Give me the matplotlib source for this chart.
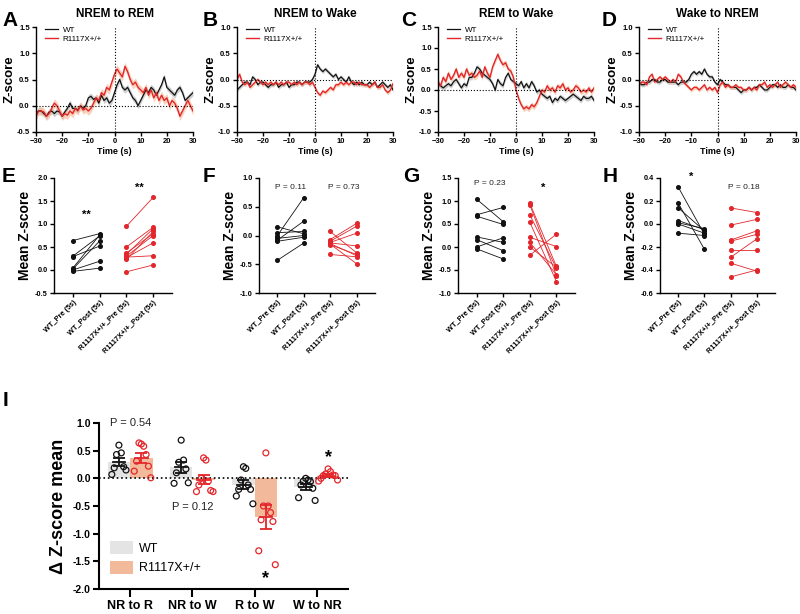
import numpy as np
import matplotlib.pyplot as plt

plt.rcParams['font.family'] = ['Liberation Sans', 'DejaVu Sans']
plt.rcParams['axes.linewidth'] = 1.0

RED = '#e3262b'
BLACK = '#111111'
GREY_BAR = '#e4e4e4'
SALMON = '#f3b99b'

# ── Data: peri-transition traces (1 s bins) ─────────────────────────────────
t = np.arange(-30, 31)

a_wt = [-0.15, -0.10, -0.10, -0.15, -0.20, -0.12, -0.10, -0.15, -0.10, -0.12,
        -0.20, -0.12, -0.05, 0.05, -0.05, -0.05, -0.08, 0.00, -0.05, 0.00,
        0.15, 0.18, 0.12, 0.15, 0.05, 0.20, 0.10, 0.15, 0.05, 0.10,
        0.25, 0.40, 0.50, 0.35, 0.30, 0.35, 0.25, 0.15, 0.10, 0.00,
        0.10, 0.20, 0.30, 0.25, 0.35, 0.30, 0.20, 0.30, 0.40, 0.55,
        0.35, 0.30, 0.25, 0.20, 0.30, 0.35, 0.25, 0.10, 0.15, 0.20,
        0.25]
a_mut = [-0.20, -0.10, -0.10, -0.12, -0.20, -0.15, -0.05, 0.05, 0.00, -0.10,
         -0.20, -0.15, -0.18, -0.10, -0.15, -0.05, -0.10, 0.00, -0.08, -0.05,
         -0.10, -0.05, 0.05, 0.15, 0.10, 0.25, 0.20, 0.35, 0.30, 0.45,
         0.60, 0.70, 0.62, 0.55, 0.75, 0.65, 0.50, 0.40, 0.45, 0.35,
         0.30, 0.25, 0.35, 0.20, 0.30, 0.15, 0.25, 0.10, 0.20, 0.10,
         0.15, 0.00, 0.10, 0.05, -0.05, -0.20, -0.10, 0.00, 0.10, 0.00,
         -0.10]

b_wt = [-0.20, -0.15, -0.10, -0.05, -0.05, -0.10, 0.05, 0.00, -0.10, -0.05,
        -0.05, -0.10, -0.15, -0.10, -0.10, -0.05, -0.15, -0.10, -0.10, -0.05,
        -0.15, -0.10, -0.10, -0.05, -0.05, -0.10, -0.05, -0.05, -0.05, 0.00,
        0.10, 0.28, 0.20, 0.15, 0.20, 0.15, 0.10, 0.05, 0.10, 0.00,
        0.05, 0.00, -0.05, 0.05, -0.05, -0.10, -0.05, -0.10, -0.05, -0.10,
        -0.10, -0.05, -0.10, -0.05, -0.15, -0.10, -0.05, -0.10, -0.15, -0.10,
        -0.20]
b_mut = [0.00, 0.10, -0.05, -0.10, -0.05, -0.15, -0.10, -0.05, 0.00, -0.05,
         -0.10, -0.05, -0.10, -0.05, -0.10, -0.05, -0.10, -0.05, -0.10, -0.05,
         -0.05, -0.10, -0.05, -0.10, -0.05, -0.10, -0.05, -0.05, -0.10, -0.05,
         -0.15, -0.25, -0.30, -0.22, -0.25, -0.20, -0.15, -0.20, -0.10, -0.10,
         -0.05, -0.10, -0.05, -0.10, -0.05, -0.05, -0.10, -0.05, -0.10, -0.10,
         -0.10, -0.15, -0.10, -0.05, -0.15, -0.15, -0.10, -0.20, -0.25, -0.20,
         -0.08]

c_wt = [0.15, 0.10, 0.05, 0.10, 0.15, 0.10, 0.20, 0.25, 0.15, 0.05,
        0.15, 0.10, 0.30, 0.30, 0.40, 0.55, 0.50, 0.40, 0.35, 0.30,
        0.25, 0.15, 0.00, 0.25, 0.15, 0.10, 0.30, 0.40, 0.25, 0.20,
        0.15, 0.10, 0.20, 0.05, 0.15, 0.05, 0.20, 0.10, -0.05, 0.00,
        -0.10, -0.15, -0.20, -0.15, -0.30, -0.20, -0.25, -0.15, -0.20, -0.25,
        -0.20, -0.15, -0.10, -0.15, -0.20, -0.25, -0.15, -0.20, -0.20, -0.15,
        -0.25]
c_mut = [0.20, 0.10, 0.30, 0.20, 0.40, 0.25, 0.35, 0.50, 0.30, 0.40,
         0.30, 0.50, 0.35, 0.40, 0.30, 0.35, 0.45, 0.30, 0.55, 0.40,
         0.30, 0.55, 0.70, 0.85, 0.70, 0.60, 0.65, 0.50, 0.45, 0.30,
         0.00, -0.20, -0.35, -0.45, -0.40, -0.45, -0.35, -0.40, -0.30, -0.15,
         0.00, -0.05, 0.10, 0.00, 0.05, -0.05, 0.10, 0.05, 0.15, 0.00,
         0.05, -0.05, 0.00, 0.10, 0.05, -0.05, 0.00, -0.05, 0.05, -0.05,
         0.05]

d_wt = [-0.05, -0.10, -0.10, -0.05, -0.05, 0.00, 0.00, -0.05, -0.05, 0.00,
        0.00, -0.05, -0.05, -0.05, -0.05, -0.10, -0.05, -0.05, -0.05, 0.00,
        0.10, 0.15, 0.10, 0.15, 0.10, 0.20, 0.10, 0.05, 0.05, -0.05,
        -0.10, 0.00, -0.05, -0.10, -0.10, -0.15, -0.15, -0.15, -0.20, -0.25,
        -0.20, -0.20, -0.15, -0.20, -0.15, -0.15, -0.10, -0.15, -0.20, -0.20,
        -0.15, -0.10, -0.10, -0.15, -0.10, -0.15, -0.15, -0.10, -0.15, -0.15,
        -0.20]
d_mut = [-0.10, -0.05, -0.05, -0.10, 0.05, 0.10, -0.05, 0.00, 0.05, 0.00,
         0.05, 0.00, -0.05, 0.00, -0.05, 0.10, 0.05, -0.05, -0.10, -0.15,
         -0.20, -0.15, -0.15, -0.20, -0.15, -0.10, -0.20, -0.15, -0.20, -0.15,
         -0.25, -0.10, -0.05, -0.15, -0.10, -0.15, -0.15, -0.10, -0.15, -0.15,
         -0.20, -0.20, -0.15, -0.20, -0.15, -0.20, -0.10, -0.10, -0.05, -0.15,
         -0.10, -0.15, -0.10, -0.05, -0.15, -0.10, -0.05, -0.10, -0.15, -0.10,
         -0.15]

trace_titles = ['NREM to REM', 'NREM to Wake', 'REM to Wake', 'Wake to NREM']
trace_wt = [a_wt, b_wt, c_wt, d_wt]
trace_mut = [a_mut, b_mut, c_mut, d_mut]
sem_wt = [0.06, 0.04, 0.06, 0.04]
sem_mut = [0.08, 0.04, 0.07, 0.04]
trace_ylim = [(-0.5, 1.5), (-1.0, 1.0), (-1.0, 1.5), (-1.0, 1.0)]

# ── Data: 5 s pre/post means ────────────────────────────────────────────────
e_wt_pre = [0.64, 0.30, 0.29, 0.04, 0.02, 0.00, -0.03]
e_wt_post = [0.79, 0.74, 0.52, 0.76, 0.63, 0.19, 0.04]
e_mut_pre = [0.95, 0.50, 0.37, 0.34, 0.30, 0.27, 0.23, 0.28, -0.04]
e_mut_post = [1.58, 0.93, 0.79, 0.90, 0.75, 0.59, 0.84, 0.31, 0.11]

f_wt_pre = [0.15, 0.05, 0.00, -0.05, -0.08, -0.10, -0.43]
f_wt_post = [0.03, 0.07, 0.66, 0.00, 0.25, -0.03, -0.13]
f_mut_pre = [0.07, -0.07, -0.10, -0.12, -0.13, -0.14, -0.16, -0.33, -0.15]
f_mut_post = [-0.30, 0.21, 0.16, 0.04, -0.18, -0.35, -0.33, -0.37, -0.49]

g_wt_pre = [1.04, 0.70, 0.67, 0.22, 0.16, 0.00, -0.04]
g_wt_post = [0.55, 0.86, 0.49, 0.10, -0.08, 0.20, -0.26]
g_mut_pre = [0.95, 0.92, 0.70, 0.54, 0.21, 0.10, 0.00, -0.18]
g_mut_post = [-0.42, -0.62, -0.46, -0.75, 0.01, -0.60, -0.44, 0.28]

h_wt_pre = [0.32, 0.18, 0.14, 0.03, 0.01, 0.00, -0.08]
h_wt_post = [-0.09, -0.22, -0.06, -0.05, -0.04, -0.08, -0.10]
h_mut_pre = [0.14, -0.01, -0.14, -0.15, -0.23, -0.29, -0.34, -0.46]
h_mut_post = [0.10, 0.04, -0.06, -0.09, -0.23, -0.13, -0.41, -0.40]

pair_labels = ['WT_Pre (5s)', 'WT_Post (5s)', 'R1117X+/+_Pre (5s)', 'R1117X+/+_Post (5s)']
pair_wt = [(e_wt_pre, e_wt_post), (f_wt_pre, f_wt_post), (g_wt_pre, g_wt_post), (h_wt_pre, h_wt_post)]
pair_mut = [(e_mut_pre, e_mut_post), (f_mut_pre, f_mut_post), (g_mut_pre, g_mut_post), (h_mut_pre, h_mut_post)]
pair_ylim = [(-0.5, 2.0), (-1.0, 1.0), (-1.0, 1.5), (-0.6, 0.4)]
pair_ystep = [0.5, 0.5, 0.5, 0.2]
pair_wt_note = [('**', 1.19), ('P = 0.11', 0.84), ('P = 0.23', 1.39), ('*', 0.41)]
pair_mut_note = [('**', 1.78), ('P = 0.73', 0.84), ('*', 1.28), ('P = 0.18', 0.32)]

# ── Data: delta Z-score ─────────────────────────────────────────────────────
delta_cats = ['NR to R', 'NR to W', 'R to W', 'W to NR']
delta_wt = [[0.60, 0.46, 0.43, 0.21, 0.19, 0.15, 0.07],
            [0.69, 0.33, 0.29, 0.17, 0.10, -0.08, -0.09],
            [0.21, 0.18, -0.03, -0.12, -0.20, -0.20, -0.32, -0.46],
            [0.00, -0.03, -0.05, -0.06, -0.12, -0.18, -0.35, -0.40]]
delta_mut = [[0.62, 0.58, 0.64, 0.43, 0.31, 0.22, 0.13, 0.01],
             [0.37, 0.33, 0.00, -0.05, -0.12, -0.22, -0.24, -0.24],
             [0.46, -0.50, -0.50, -0.62, -0.75, -0.78, -1.31, -1.56],
             [0.17, 0.12, 0.08, 0.06, 0.05, 0.05, 0.00, -0.03, -0.05]]

W, H = 800, 614
fig = plt.figure(figsize=(8, 6.14), dpi=100)


def px_axes(x0, y0, x1, y1):
    return fig.add_axes([x0 / W, 1 - y1 / H, (x1 - x0) / W, (y1 - y0) / H])


def style(ax, lw=1.0):
    for s in ['top', 'right']:
        ax.spines[s].set_visible(False)
    for s in ['left', 'bottom']:
        ax.spines[s].set_linewidth(lw)
    ax.tick_params(direction='out', length=3, width=lw, pad=1.5)


# ── Row 1: traces ───────────────────────────────────────────────────────────
trace_x = [(36, 193), (237, 393), (438, 594), (639, 796)]
trace_letters = [('A', 2), ('B', 203), ('C', 401), ('D', 602)]
for i in range(4):
    x0, x1 = trace_x[i]
    ax = px_axes(x0, 27, x1, 132)
    wt = np.array(trace_wt[i])
    mut = np.array(trace_mut[i])
    ax.fill_between(t, wt - sem_wt[i], wt + sem_wt[i], color='#b0b0b0', alpha=0.6, lw=0)
    ax.fill_between(t, mut - sem_mut[i], mut + sem_mut[i], color='#f6b48f', alpha=0.6, lw=0)
    ax.plot(t, wt, color=BLACK, lw=0.9, label='WT')
    ax.plot(t, mut, color=RED, lw=1.0, label='R1117X+/+')
    ax.axhline(0, color='k', ls=':', lw=0.8)
    ax.axvline(0, color='k', ls=':', lw=0.8)
    ax.set_xlim(-30, 30)
    ax.set_ylim(*trace_ylim[i])
    ax.set_xticks(np.arange(-30, 31, 10))
    ax.set_yticks(np.arange(trace_ylim[i][0], trace_ylim[i][1] + 0.01, 0.5))
    ax.set_yticklabels([f'{v:.1f}' for v in ax.get_yticks()])
    for lab in ax.get_xticklabels() + ax.get_yticklabels():
        lab.set_fontsize(5.5)
        lab.set_fontweight('bold')
    style(ax)
    ax.set_xlabel('Time (s)', fontsize=6.5, fontweight='bold', labelpad=1)
    ax.set_ylabel('Z-score', fontsize=9.5, fontweight='bold', labelpad=1)
    ax.set_title(trace_titles[i], fontsize=8.5, fontweight='bold', pad=7)
    ax.legend(loc='upper left', bbox_to_anchor=(0.02, 1.06), frameon=False,
              fontsize=5.8, handlelength=1.6, labelspacing=0.15, borderpad=0.2,
              handletextpad=0.6)
    lt, lx = trace_letters[i]
    fig.text(lx / W, 1 - 21 / H, lt, fontsize=15, fontweight='bold', va='center')

# ── Row 2: paired pre/post ──────────────────────────────────────────────────
pair_x = [(54, 172), (259, 375), (458, 575), (660, 775)]
pair_letters = [('E', 2), ('F', 203), ('G', 403), ('H', 603)]
for i in range(4):
    x0, x1 = pair_x[i]
    ax = px_axes(x0, 178, x1, 293)
    for pre, post in zip(*pair_wt[i]):
        ax.plot([0, 1], [pre, post], color=BLACK, lw=0.6, marker='o', ms=2.6)
    for pre, post in zip(*pair_mut[i]):
        ax.plot([2, 3], [pre, post], color=RED, lw=0.6, marker='o', ms=2.6)
    ax.set_xlim(-0.7, 3.7)
    lo, hi = pair_ylim[i]
    ax.set_ylim(lo, hi)
    ticks = np.arange(lo, hi + 1e-6, pair_ystep[i])
    ax.set_yticks(ticks)
    ax.set_yticklabels([f'{v:.1f}' for v in ticks], fontsize=5.3, fontweight='bold')
    ax.set_xticks(range(4))
    ax.set_xticklabels(pair_labels, rotation=45, ha='right', rotation_mode='anchor',
                       fontsize=5.3, fontweight='bold')
    style(ax)
    ax.set_ylabel('Mean Z-score', fontsize=10, fontweight='bold', labelpad=2)
    for note, x in [(pair_wt_note[i], 0.5), (pair_mut_note[i], 2.5)]:
        txt, y = note
        if txt.startswith('P'):
            ax.text(x, y, txt, ha='center', va='center', fontsize=6, color='#222222')
        else:
            ax.text(x, y, txt, ha='center', va='center', fontsize=8, fontweight='bold')
    lt, lx = pair_letters[i]
    fig.text(lx / W, 1 - 177 / H, lt, fontsize=15, fontweight='bold', va='center')

# ── Row 3: delta Z-score ────────────────────────────────────────────────────
ax = px_axes(99, 423, 348, 589)
off = 0.18
bw = 0.36
for k in range(4):
    for vals, sign, face, col in [(delta_wt[k], -1, GREY_BAR, BLACK), (delta_mut[k], 1, SALMON, RED)]:
        v = np.array(vals)
        xc = k + sign * off
        m = v.mean()
        se = v.std(ddof=1) / np.sqrt(len(v))
        ax.bar(xc, m, width=bw, color=face, zorder=1,
               label='WT' if (k == 0 and sign < 0) else ('R1117X+/+' if k == 0 else None))
        jit = np.array([((j + 1) // 2) * (1 if j % 2 else -1) for j in range(len(v))]) * 0.038
        ax.scatter(xc + jit, v, s=18, facecolors='none', edgecolors=col, linewidths=0.9, zorder=3)
        ax.errorbar(xc, m, yerr=se, color=col, capsize=4, capthick=1.3, elinewidth=1.3, zorder=4)
        ax.plot([xc - 0.1, xc + 0.1], [m, m], color=col, lw=1.3, zorder=4)
ax.axhline(0, color='k', ls=':', lw=1.2, zorder=2)
ax.set_xlim(-0.5, 3.5)
ax.set_ylim(-2.0, 1.0)
ax.set_yticks(np.arange(-2.0, 1.01, 0.5))
ax.set_yticklabels([f'{v:.1f}' for v in np.arange(-2.0, 1.01, 0.5)], fontsize=7.5, fontweight='bold')
ax.set_xticks(range(4))
ax.set_xticklabels(delta_cats, fontsize=9, fontweight='bold')
for s in ['top', 'right']:
    ax.spines[s].set_visible(False)
for s in ['left', 'bottom']:
    ax.spines[s].set_linewidth(1.5)
ax.tick_params(axis='y', direction='out', length=4, width=1.5, pad=2)
ax.tick_params(axis='x', direction='out', length=6, width=1.5, pad=2)
ax.set_ylabel('Δ Z-score mean', fontsize=13, fontweight='bold', labelpad=4)
ax.text(0.0, 1.0, 'P = 0.54', ha='center', va='center', fontsize=8, color='#222222')
ax.text(1.0, -0.52, 'P = 0.12', ha='center', va='center', fontsize=8, color='#222222')
ax.text(3 + off, 0.38, '*', ha='center', va='center', fontsize=13, fontweight='bold')
ax.text(2 + off, -1.82, '*', ha='center', va='center', fontsize=13, fontweight='bold')
ax.legend(loc='lower left', bbox_to_anchor=(0.0, 0.02), frameon=False, fontsize=9,
          handlelength=1.8, handleheight=1.2, labelspacing=0.5, handletextpad=0.5)
fig.text(3 / W, 1 - 400 / H, 'I', fontsize=15, fontweight='bold', va='center')

plt.savefig('out.png', dpi=100)
plt.close()
